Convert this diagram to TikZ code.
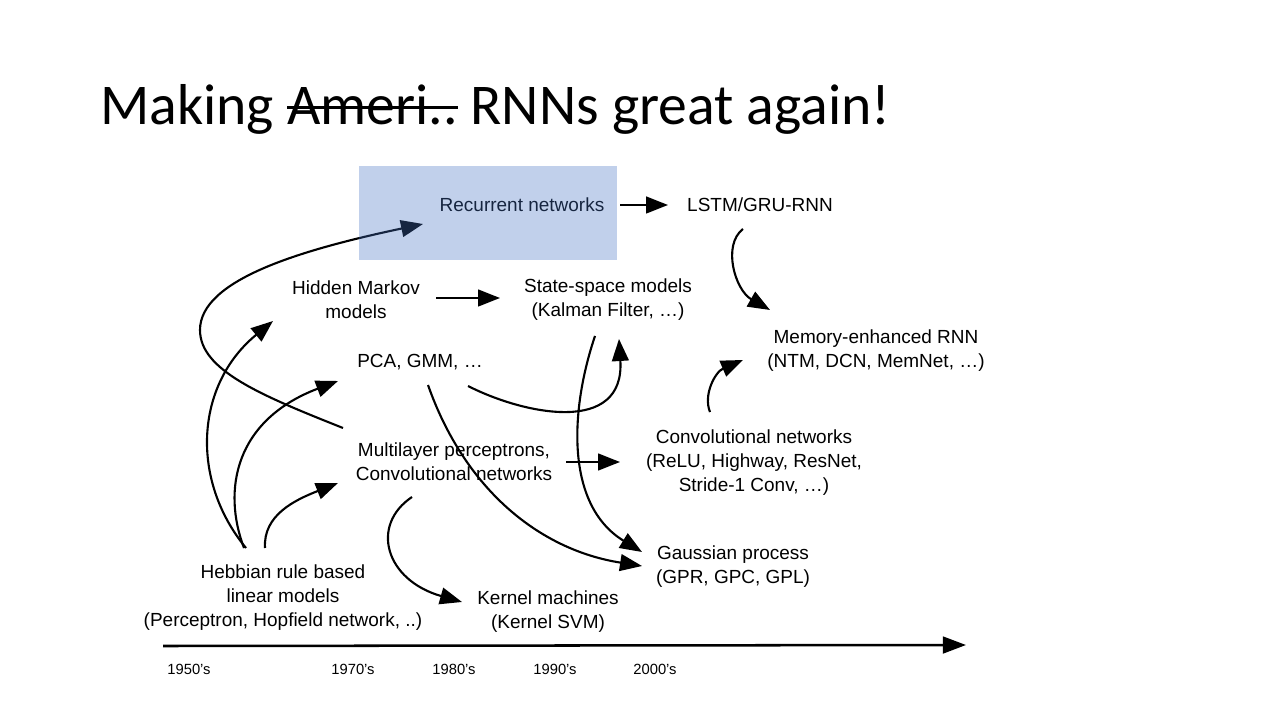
\documentclass[tikz,border=0pt]{standalone}
\usepackage{fontspec}
\setmainfont{Liberation Sans}
\newfontfamily\titlefont{Carlito}
\usetikzlibrary{arrows.meta,calc}
\newcommand\mystrike[1]{\setbox0\hbox{#1}\rlap{\rule[0.28em]{\wd0}{0.05em}}\box0\relax}
\definecolor{boxblue}{RGB}{68,114,196}
\begin{document}
\begin{tikzpicture}[x=0.025cm,y=-0.025cm,
  lbl/.style={align=center,font=\fontsize{13.5}{17.1}\selectfont,inner sep=0pt},
  yr/.style={font=\fontsize{10.5}{12}\selectfont,inner sep=0pt},
  conn/.style={line width=1.5pt,-{Triangle[length=0.55cm,width=0.42cm]}},
  axis/.style={line width=1.8pt,-{Triangle[length=0.58cm,width=0.42cm]}},
  hilite/.style={fill=boxblue,fill opacity=0.33}
]
\useasboundingbox[fill=white] (0,0) rectangle (1280,720);

\node[anchor=base west,inner sep=0pt,font=\titlefont\fontsize{41}{48}\selectfont] (title) at (100,125)
  {Making \mystrike{Ameri..} RNNs great again!};

\node[lbl] (rnn)  at (522,205) {Recurrent networks};
\node[lbl] (lstm) at (760,205) {LSTM/GRU-RNN};
\node[lbl] (hmm)  at (356,300) {Hidden Markov\\models};
\node[lbl] (ssm)  at (608,300) {State-space models\\(Kalman Filter, …)};
\node[lbl] (pca)  at (420,362) {PCA, GMM, …};
\node[lbl] (mem)  at (876,351) {Memory-enhanced RNN\\(NTM, DCN, MemNet, …)};
\node[lbl] (mlp)  at (454,462) {Multilayer perceptrons,\\Convolutional networks};
\node[lbl] (conv) at (754,463) {Convolutional networks\\(ReLU, Highway, ResNet,\\Stride-1 Conv, …)};
\node[lbl] (gp)   at (733,567) {Gaussian process\\(GPR, GPC, GPL)};
\node[lbl] (heb)  at (283,598) {Hebbian rule based\\linear models\\(Perceptron, Hopfield network, ..)};
\node[lbl] (kern) at (548,612) {Kernel machines\\(Kernel SVM)};

\coordinate (t0) at (163,646);
\coordinate (t1) at (966,645);
\draw[axis] (t0) -- (t1);
\node[yr] (y50) at (189,669) {1950’s};
\node[yr] (y70) at (353,669) {1970’s};
\node[yr] (y80) at (454,669) {1980’s};
\node[yr] (y90) at (555,669) {1990’s};
\node[yr] (y00) at (655,669) {2000’s};

% connectors
\draw[conn] ($(heb)+(-37,-50)$) .. controls (190,480) and (195,385) .. ($(hmm)+(-83,21)$);
\draw[conn] ($(heb)+(-39,-50)$) .. controls (222,490) and (235,420) .. ($(pca)+(-82,19)$);
\draw[conn] ($(heb)+(-18,-50)$) .. controls (263,515) and (295,500) .. ($(mlp)+(-116,21)$);
\draw[conn] ($(mlp)+(-111,-34)$) .. controls (260,395) and (200,370) .. (200,330)
  .. controls (200,280) and (300,250) .. ($(rnn)+(-99,19)$);
\draw[conn] ($(hmm)+(80,-2)$) -- ($(ssm)+(-108,-2)$);
\draw[conn] ($(rnn)+(98,0)$) -- ($(lstm)+(-92,0)$);
\draw[conn] ($(lstm)+(-17,24)$) .. controls (722,245) and (735,290) .. ($(mem)+(-106,-41)$);
\draw[conn] ($(conv)+(-44,-51)$) .. controls (703,395) and (715,372) .. ($(mem)+(-133,9)$);
\draw[conn] ($(pca)+(48,24)$) .. controls (525,415) and (625,435) .. ($(ssm)+(11,39)$);
\draw[conn] ($(ssm)+(-13,36)$) .. controls (570,410) and (565,505) .. ($(gp)+(-91,-15)$);
\draw[conn] ($(pca)+(8,23)$) .. controls (465,490) and (540,550) .. ($(gp)+(-91,-1)$);
\draw[conn] ($(mlp)+(112,0)$) -- ($(conv)+(-134,-1)$);
\draw[conn] ($(mlp)+(-42,35)$) .. controls (370,525) and (385,580) .. ($(kern)+(-86,-10)$);

% translucent highlight over "Recurrent networks"
\fill[hilite] (359,166) rectangle (617,260);
\end{tikzpicture}
\end{document}
